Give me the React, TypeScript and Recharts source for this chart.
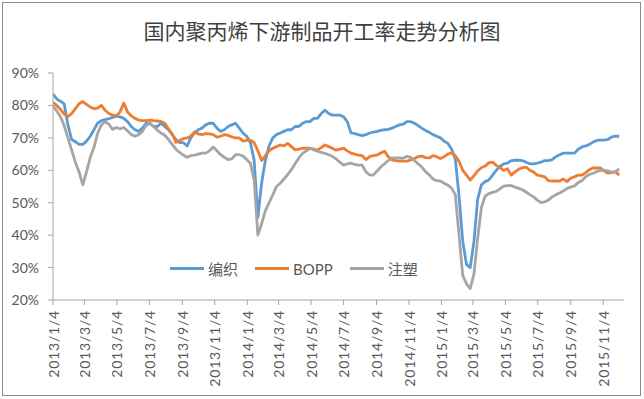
import { LineChart, Line, XAxis, YAxis, Legend } from 'recharts'

// 周度开工率（%），2013/1/4 起每周一个点
const BIANZHI = [
  83.5, 82, 81.3, 80.5, 74, 69.5, 68.8, 68, 68, 69,
  70.5, 72.5, 74.6, 75.3, 75.6, 75.9, 76.3, 76.7, 76.5, 76,
  75, 73.5, 72.5, 72, 73, 74.5, 74.5, 73.5, 73.5, 74.5,
  73.5, 72.5, 71, 69.5, 68.5, 68.5, 67.5, 70, 71.5, 72.5,
  73, 74, 74.5, 74.5, 73, 72, 72.5, 73.5, 74, 74.5,
  73, 71.5, 70.5, 68.5, 63, 45.5, 56, 63, 67.5, 70,
  71, 71.5, 72, 72.5, 72.5, 73.5, 73.5, 74.5, 75, 75,
  76, 76, 77.5, 78.5, 77.5, 77, 77, 77, 76.5, 75,
  71.5, 71.3, 71, 70.7, 71, 71.5, 71.8, 72, 72.3, 72.5,
  72.6, 73, 73.5, 74, 74.2, 75, 75, 74.5, 73.8, 73,
  72.3, 71.7, 71, 70.5, 70, 69, 68.3, 66.5, 63.5, 52,
  38, 31, 30, 38, 51, 55.5, 56.5, 57, 58.5, 60,
  61.2, 62, 62.2, 63, 63.1, 63.1, 63, 62.5, 62, 62,
  62.2, 62.5, 63, 63, 63.3, 64.2, 64.8, 65.3, 65.3, 65.3,
  65.3, 66.5, 67.2, 67.5, 68, 68.7, 69.2, 69.3, 69.3, 69.5,
  70.3, 70.5, 70.5,
]

const BOPP = [
  81, 80, 78.8, 77.3, 76.5, 77.5, 79, 80.5, 81.2, 80.3,
  79.5, 79, 79.2, 80, 78.5, 77.5, 77, 76.8, 78, 80.7,
  78, 76.8, 76, 75.5, 75.3, 75.3, 75.5, 75.3, 75.2, 75,
  74.5, 72.8, 71.2, 68.6, 69.2, 69.8, 70, 70.5, 71.8, 71.2,
  71, 71.3, 71.2, 71, 70.2, 70.5, 71, 70.8, 70.3, 70,
  70, 69, 69.2, 69.3, 68.5, 66, 63, 64.5, 66, 66.8,
  67.3, 67.8, 67.5, 68.3, 67.3, 66.3, 66.5, 66.8, 66.8, 66.8,
  66.5, 66.2, 67, 67.8, 67.3, 66.8, 66.2, 66.5, 66.8, 66,
  65.3, 65, 64.7, 64.5, 63.3, 64.2, 64.5, 64.7, 65.3, 65.9,
  64.2, 63.2, 63, 62.8, 62.8, 62.8, 63.2, 63.6, 64.2, 64.4,
  63.9, 63.8, 64.5, 64.2, 63.6, 64.2, 65, 65.4, 64.5, 62.8,
  60, 58.5, 57, 58.3, 59.8, 60.8, 61.3, 62.3, 62.5, 61.5,
  60.8, 60, 60.5, 58.5, 59.5, 60.3, 60.8, 61, 60, 59.5,
  58.5, 58.3, 58, 56.8, 56.7, 56.7, 56.7, 57.3, 56.5, 57.6,
  58, 58.5, 58.5, 59.3, 60.2, 60.7, 60.7, 60.7, 59.8, 59.1,
  59.3, 59.5, 58.5,
]

const ZHUSU = [
  80, 78.3, 76.5, 73.8, 70, 66.3, 62.5, 59.5, 55.5, 59.5,
  64, 67, 71.5, 74, 75, 74.2, 72.6, 73.2, 72.8, 73.2,
  72.2, 71, 70.5, 71, 72, 73.8, 74.5, 73.5, 72.4, 71.5,
  70.8, 69.5, 68, 66.5, 65.5, 64.7, 64, 64.5, 64.7, 65,
  65.3, 65.3, 66, 67.2, 66, 64.8, 64, 63.3, 63.5, 64.8,
  64.8, 64.4, 63.3, 62.2, 57, 40, 43.5, 47.5, 50, 52.4,
  55, 56, 57.3, 58.7, 60.2, 62, 63.8, 65.2, 66, 66.8,
  66.3, 65.9, 65.5, 65.2, 64.8, 64.3, 63.5, 62.5, 61.6, 62,
  62.2, 61.8, 61.6, 61.6, 59.5, 58.6, 58.5, 59.8, 61, 62,
  63, 63.8, 63.8, 63.8, 63.7, 64.3, 64, 63, 62, 61,
  59.6, 58.6, 57.3, 56.8, 56.7, 56, 55.4, 54.5, 52.5, 40,
  27.5, 25, 23.5, 28, 39, 48.5, 52, 52.8, 53.2, 53.5,
  54.3, 55.1, 55.3, 55.3, 54.8, 54.4, 54, 53.3, 52.5, 51.8,
  50.8, 50, 50.3, 50.8, 51.8, 52.5, 53, 53.6, 54.4, 54.8,
  55.2, 56.2, 56.8, 58, 58.7, 59.1, 59.6, 60, 60, 59.8,
  59.4, 59.6, 60.4,
]

const TICK_LABELS = [
  '2013/1/4', '2013/3/4', '2013/5/4', '2013/7/4', '2013/9/4', '2013/11/4',
  '2014/1/4', '2014/3/4', '2014/5/4', '2014/7/4', '2014/9/4', '2014/11/4',
  '2015/1/4', '2015/3/4', '2015/5/4', '2015/7/4', '2015/9/4', '2015/11/4',
]
const Y_TICKS = [20, 30, 40, 50, 60, 70, 80, 90]

const SERIES = [
  { key: 'bianzhi', name: '编织', color: '#5B9BD5', values: BIANZHI },
  { key: 'bopp', name: 'BOPP', color: '#ED7D31', values: BOPP },
  { key: 'zhusu', name: '注塑', color: '#A5A5A5', values: ZHUSU },
]

const START = Date.UTC(2013, 0, 4)
const dayOf = (s: string) => {
  const [y, m, d] = s.split('/').map(Number)
  return Math.round((Date.UTC(y, m - 1, d) - START) / 86400000)
}
const TICK_DAYS = TICK_LABELS.map(dayOf)
const labelOf = (day: number) => TICK_LABELS[TICK_DAYS.indexOf(day)] ?? ''

const data = BIANZHI.map((_, i) => {
  const row: Record<string, number> = { day: i * 7 }
  SERIES.forEach((s) => { row[s.key] = s.values[i] })
  return row
})

const TEXT = '#595959'
const AXIS = '#a6a6a6'
const FONT = 'Lato, "Noto Sans CJK SC", sans-serif'

// eslint-disable-next-line @typescript-eslint/no-explicit-any
const DateTick = ({ x, y, payload }: any) => (
  <g transform={`translate(${x},${y})`}>
    <text
      transform="rotate(-90)"
      x={-3}
      y={0}
      textAnchor="end"
      dominantBaseline="central"
      fill={TEXT}
      fontSize={14}
      letterSpacing={0.8}
      fontFamily={FONT}
    >
      {labelOf(payload.value)}
    </text>
  </g>
)

const renderLegend = () => (
  <div style={{ display: 'flex', alignItems: 'center', fontFamily: FONT, fontSize: 15, color: TEXT }}>
    {SERIES.map((s) => (
      <div key={s.key} style={{ display: 'flex', alignItems: 'center', marginRight: 17 }}>
        <span style={{ display: 'inline-block', width: 34, height: 3, background: s.color, marginRight: 4 }} />
        <span>{s.name}</span>
      </div>
    ))}
  </div>
)

export default function App() {
  return (
    <div style={{ position: 'absolute', left: 0, top: 0, width: 644, height: 399, background: '#fff', fontFamily: FONT }}>
      <div
        style={{
          position: 'absolute', left: 2, top: 2, width: 637, height: 392,
          border: '1px solid #8c8c8c', pointerEvents: 'none',
        }}
      />
      <div
        style={{
          position: 'absolute', left: 0, top: 16, width: 644, textAlign: 'center',
          fontFamily: '"Noto Sans CJK SC", sans-serif', fontSize: 21, color: '#404040', lineHeight: '28px',
        }}
      >
        国内聚丙烯下游制品开工率走势分析图
      </div>
      <LineChart width={644} height={399} data={data} margin={{ top: 73, right: 20, bottom: 19, left: 0 }}>
        <XAxis
          dataKey="day"
          type="number"
          domain={[0, 1073]}
          ticks={TICK_DAYS}
          interval={0}
          height={80}
          tick={<DateTick />}
          tickSize={5}
          stroke={AXIS}
          allowDataOverflow
        />
        <YAxis
          domain={[20, 90]}
          ticks={Y_TICKS}
          width={53}
          tickSize={5}
          tickMargin={9}
          stroke={AXIS}
          tick={{ fill: TEXT, fontSize: 14, fontFamily: FONT }}
          tickFormatter={(v: number) => `${v}%`}
        />
        <Legend
          layout="horizontal"
          align="center"
          verticalAlign="middle"
          content={renderLegend}
          wrapperStyle={{ position: 'absolute', top: 258, left: 170, width: 300 }}
        />
        {SERIES.map((s) => (
          <Line
            key={s.key}
            type="linear"
            dataKey={s.key}
            name={s.name}
            stroke={s.color}
            strokeWidth={2.8}
            strokeLinejoin="round"
            dot={false}
            isAnimationActive={false}
          />
        ))}
      </LineChart>
    </div>
  )
}
